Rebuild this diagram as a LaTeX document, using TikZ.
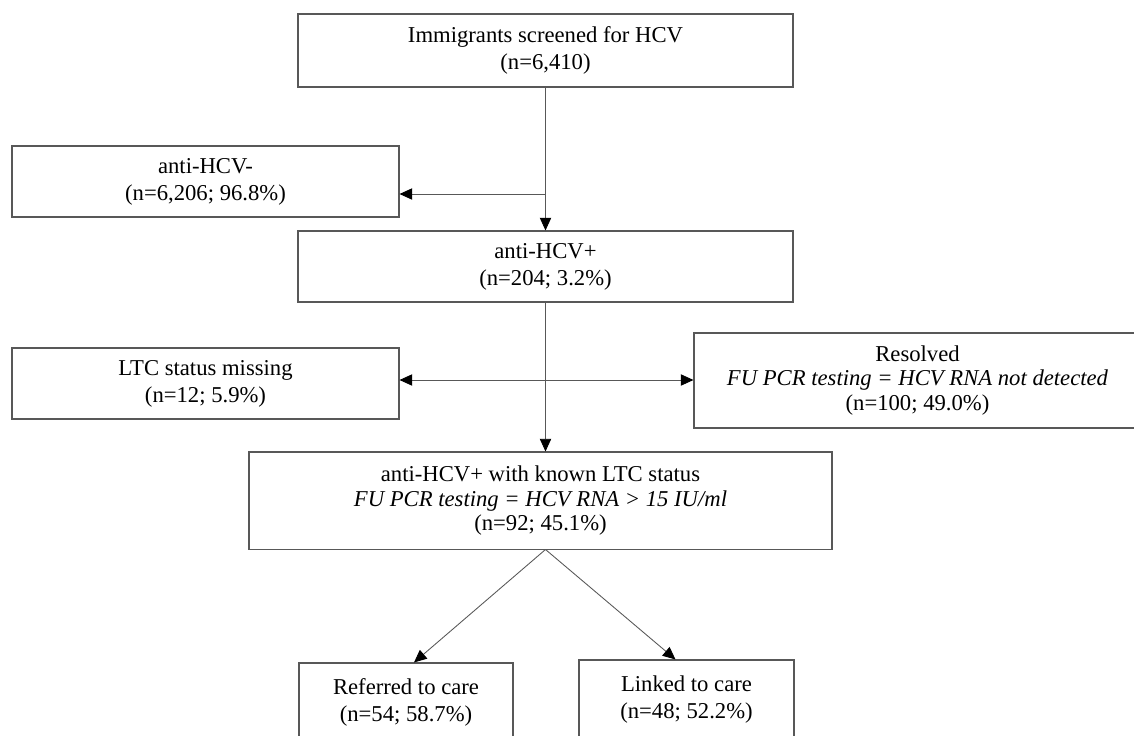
\documentclass[tikz,border=0pt]{standalone}
\usepackage{fontspec}
\setmainfont{Liberation Serif}
\usetikzlibrary{arrows.meta,calc}
\definecolor{edge}{RGB}{88,88,88}
\begin{document}
\begin{tikzpicture}[x=0.75pt,y=-0.75pt,
  box/.style={draw=edge, line width=0.8pt, inner sep=0pt, align=center,
    font=\fontsize{17pt}{20.25pt}\selectfont},
  box3/.style={box, font=\fontsize{17pt}{18.4pt}\selectfont},
  conn/.style={draw=edge, line width=0.65pt},
  tip/.style={-{Triangle[length=9.5pt,width=8.5pt,color=black]}},
  dtip/.style={{Triangle[length=9.5pt,width=8.5pt,color=black]}-{Triangle[length=9.5pt,width=8.5pt,color=black]}}
]
\useasboundingbox (0,0) rectangle (1134,735);
\clip (0,0) rectangle (1134,735);
\fill[white] (0,0) rectangle (1134,735);

\node[box, minimum width=371.25pt, minimum height=54.75pt] (top) at (545.5,50.5)
  {Immigrants screened for HCV\\(n=6,410)};
\node[box, minimum width=290.25pt, minimum height=53.25pt] (neg) at (205.5,181.5)
  {anti-HCV-\\(n=6,206; 96.8\%)};
\node[box, minimum width=371.25pt, minimum height=53.25pt] (pos) at (545.5,266.5)
  {anti-HCV+\\(n=204; 3.2\%)};
\node[box, minimum width=290.25pt, minimum height=53.25pt] (ltc) at (205.5,383.5)
  {LTC status missing\\(n=12; 5.9\%)};
\node[box3, minimum width=335.25pt, minimum height=71.25pt] (res) at (917.5,380.5)
  {Resolved\\\textit{FU PCR testing = HCV RNA not detected}\\(n=100; 49.0\%)};
\node[box3, minimum width=437.25pt, minimum height=73.1pt] (known) at (540.5,500.75)
  {anti-HCV+ with known LTC status\\\textit{FU PCR testing = HCV RNA > 15 IU/ml}\\(n=92; 45.1\%)};
\node[box, minimum width=160.5pt, minimum height=59.25pt] (ref) at (406,702.5)
  {Referred to care\\(n=54; 58.7\%)};
\node[box, minimum width=161.25pt, minimum height=60pt] (link) at (686.5,700)
  {Linked to care\\(n=48; 52.2\%)};

\coordinate (j1) at (545.5,194);
\coordinate (j2) at (545.5,380);
\coordinate (apex) at (545.5,549.5);
\coordinate (reftip) at ($(ref.north)+(8,0)$);
\coordinate (linktip) at ($(link.north)+(-11,0)$);

\draw[conn,tip] (top.south) -- (pos.north);
\draw[conn,tip] (j1) -- (neg.east |- j1);
\draw[conn,tip] (pos.south) -- (pos.south |- known.north);
\draw[conn,dtip] (ltc.east |- j2) -- (res.west |- j2);
\draw[conn,tip] (apex) -- (reftip);
\draw[conn,tip] (apex) -- (linktip);
\end{tikzpicture}
\end{document}
